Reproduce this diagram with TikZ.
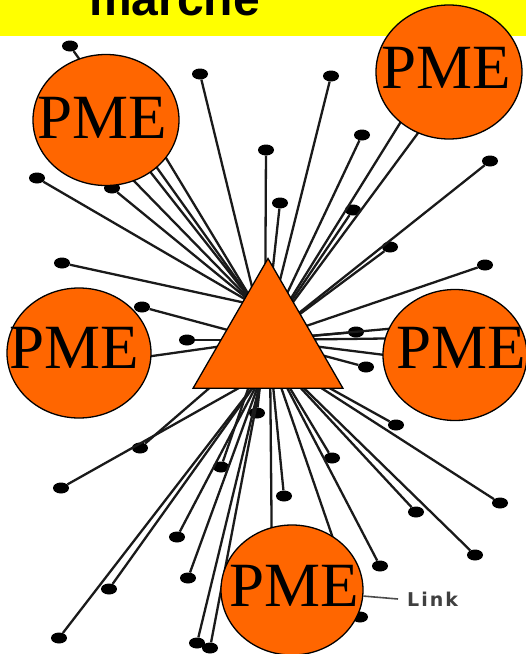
\documentclass[tikz,border=0pt]{standalone}
\usepackage{fontspec}
\newfontfamily\titlefont{Liberation Sans}
\newfontfamily\pmefont{Liberation Serif}
\newfontfamily\linkfont{DejaVu Sans}
\usetikzlibrary{shapes.geometric}
\definecolor{pmeorange}{HTML}{FF6600}
\definecolor{banner}{HTML}{FFFF00}
\definecolor{spokecol}{HTML}{1A1A1A}
\begin{document}
\begin{tikzpicture}[x=1pt,y=-1pt,
  spoke/.style={draw=spokecol, line width=2.3pt},
  dot/.style={ellipse, fill=black, inner sep=0pt, minimum width=16pt, minimum height=11pt},
  pme/.style={ellipse, draw=black, line width=1.3pt, fill=pmeorange, inner sep=0pt},
  pmetext/.style={font=\pmefont\fontsize{63}{63}\selectfont, inner sep=0pt, text=black},
  hubtri/.style={regular polygon, regular polygon sides=3, minimum size=173pt, inner sep=0pt, outer sep=0pt, draw=black, line width=1.3pt, fill=pmeorange}]
\useasboundingbox (0,0) rectangle (526,654);
\clip (0,0) rectangle (526,654);
\fill[white] (0,0) rectangle (526,654);
% banner
\fill[banner] (0,0) rectangle (526,36);
\node[anchor=base west, inner sep=0pt, font=\titlefont\bfseries\fontsize{48}{48}\selectfont] (title) at (89,15) {marché};

% hub points inside the triangle
\coordinate (hU) at (255,305);
\coordinate (hC) at (265,340);
\coordinate (hR) at (270,355);
\coordinate (hD) at (262,375);

% hidden ends (behind PME circles)
\coordinate (c1) at (95,141);
\coordinate (c2) at (115,127);
\coordinate (c3) at (140,115);
\coordinate (c4) at (430,75);
\coordinate (c5) at (455,83);
\coordinate (c6) at (420,326);
\coordinate (c7) at (425,338);
\coordinate (c8) at (425,360);
\coordinate (c9) at (110,362);
\coordinate (c10) at (272,570);

% visible end dots
\foreach \n/\x/\y in {d1/70/46, d2/200/74, d3/331/76, d4/266/150, d5/280/203, d6/362/135,
  d7/353/210, d8/490/161, d9/390/247, d10/37/178, d11/112/188, d12/62/263, d13/142/307,
  d14/187/340, d15/485/265, d16/356/332, d17/366/367, d18/396/425, d19/61/488, d20/140/448,
  d21/221/467, d22/257/413, d23/284/496, d24/332/458, d25/177/537, d26/188/578, d27/109/589,
  d28/59/638, d29/197/643, d30/210/648, d31/416/512, d32/500/503, d33/475/555, d34/380/566,
  d35/360/617}
  \node[dot] (\n) at (\x,\y) {};

% spokes
\foreach \a/\b in {d1/hU, d10/hU, d11/hU, d12/hU, c1/hU, c2/hU, c3/hU,
  d2/hC, d3/hC, d4/hC, d5/hC, d6/hC, d7/hC, d8/hC, d9/hC, d13/hC, d14/hC, d15/hC,
  d16/hC, d17/hC, d20/hC, d21/hC, d22/hC, c4/hC, c5/hC, c6/hC, c7/hC, c8/hC, c9/hC,
  d18/hR, d23/hR, d24/hR, d31/hR, d32/hR, d33/hR, d34/hR, d35/hR, c10/hR,
  d19/hD, d25/hD, d26/hD, d27/hD, d28/hD, d29/hD, d30/hD}
  \draw[spoke] (\a) -- (\b);

% PME circles
\node[pme, minimum width=146pt, minimum height=131pt] (p1) at (106,120) {};
\node[pme, minimum width=146pt, minimum height=134pt] (p2) at (449,72) {};
\node[pme, minimum width=144pt, minimum height=130pt] (p3) at (79,353) {};
\node[pme, minimum width=144pt, minimum height=131pt] (p4) at (455,355) {};
\node[pme, minimum width=142pt, minimum height=130pt] (p5) at (292,590) {};
\node[pmetext] (t1) at (102,118) {PME};
\node[pmetext] (t2) at (446,68) {PME};
\node[pmetext] (t3) at (74,348) {PME};
\node[pmetext] (t4) at (461,348) {PME};
\node[pmetext] (t5) at (294,586) {PME};

% central triangle
\node[hubtri] (hub) at (268,345) {};

% link label
\node[anchor=west, inner xsep=9pt, inner ysep=0pt, text=black!75,
  font=\linkfont\bfseries\fontsize{19}{19}\selectfont] (lnk) at (398,599) {L\kern2pt i\kern2pt n\kern2pt k};
\draw[draw=black!70, line width=1.6pt] (p5) -- (lnk.west);
\end{tikzpicture}
\end{document}
